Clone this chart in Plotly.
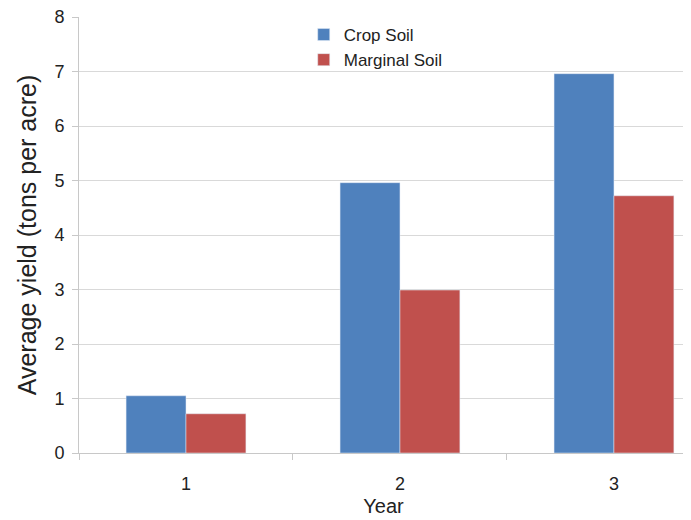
import plotly.graph_objects as go

years = ["1", "2", "3"]
crop_soil = [1.05, 4.96, 6.96]
marginal_soil = [0.72, 2.99, 4.72]
y_ticks = [0, 1, 2, 3, 4, 5, 6, 7, 8]

fig = go.Figure()
fig.add_trace(go.Bar(x=years, y=crop_soil, name="Crop Soil", marker_color="#4F81BD"))
fig.add_trace(go.Bar(x=years, y=marginal_soil, name="Marginal Soil", marker_color="#C0504D"))

font = "Liberation Sans, Arial, sans-serif"
fig.update_layout(
    width=691, height=520,
    margin=dict(l=71, r=11, t=9, b=75),
    paper_bgcolor="white", plot_bgcolor="white",
    barmode="group", bargap=0.44, bargroupgap=0,
    font=dict(family=font, size=17, color="#222"),
    showlegend=True,
    legend=dict(x=0.369, y=1.0, xanchor="left", yanchor="top",
                bgcolor="rgba(0,0,0,0)", font=dict(size=17, color="#222"),
                itemwidth=30, tracegroupgap=0),
    xaxis=dict(type="category", range=[-0.5, 2.346], automargin=False,
               showline=True, linecolor="#c8c8c8", linewidth=1,
               ticks="outside", tickson="boundaries", ticklen=6, tickcolor="#c8c8c8",
               showgrid=False, ticklabelstandoff=14,
               title=dict(text="Year", standoff=6, font=dict(size=20)),
               tickfont=dict(size=18)),
    yaxis=dict(range=[0, 8], tickvals=y_ticks, showgrid=True, gridcolor="#d9d9d9",
               showline=True, linecolor="#c8c8c8", linewidth=1, automargin=False,
               ticks="outside", ticklen=6, tickcolor="#c8c8c8",
               zeroline=False, ticklabelstandoff=4, ticklabeloverflow="allow",
               title=dict(text="Average yield (tons per acre)", standoff=10, font=dict(size=25)),
               tickfont=dict(size=18)),
)
fig.write_html("out.html")
